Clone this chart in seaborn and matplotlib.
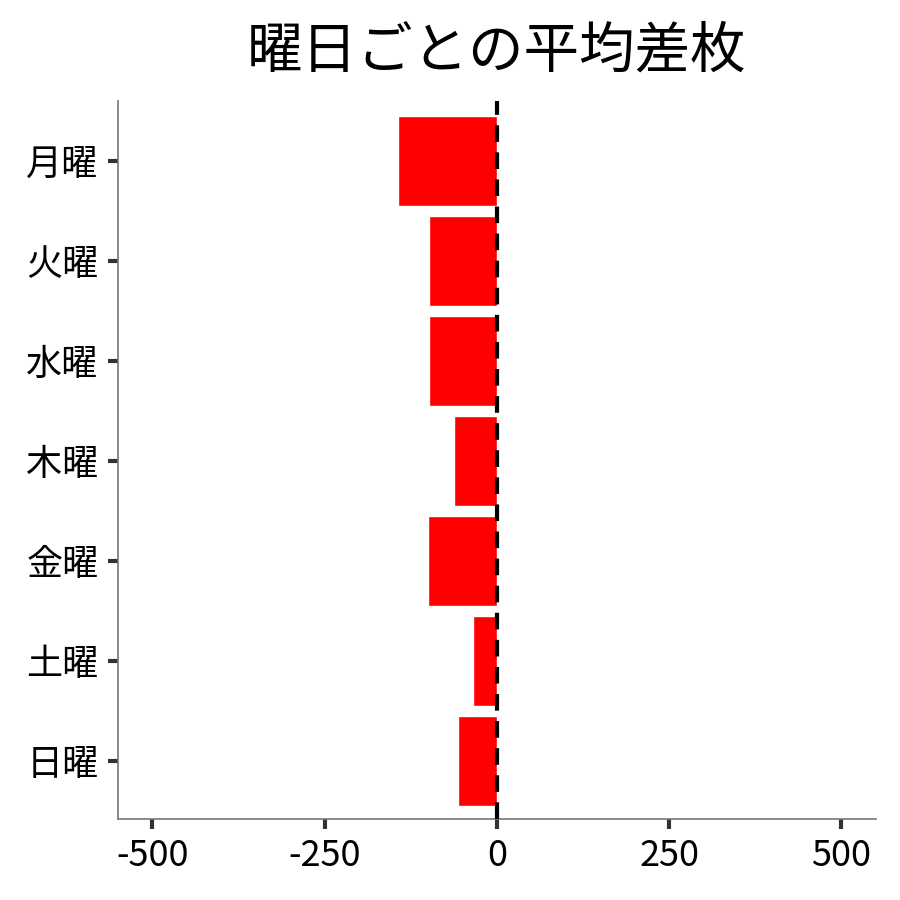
import matplotlib
matplotlib.use("Agg")
import matplotlib.pyplot as plt
import pandas as pd
import seaborn as sns

# 曜日ごとの平均差枚
曜日 = ["月曜", "火曜", "水曜", "木曜", "金曜", "土曜", "日曜"]
平均差枚 = [-144, -99, -99, -62, -100, -35, -57]
x目盛り = [-500, -250, 0, 250, 500]

df = pd.DataFrame({"曜日": 曜日, "平均差枚": 平均差枚})

sns.set_theme(style="ticks")
plt.rcParams["font.family"] = ["Noto Sans CJK JP", "DejaVu Sans"]
plt.rcParams["axes.unicode_minus"] = False
plt.rcParams["text.color"] = "black"
plt.rcParams["xtick.labelcolor"] = "black"
plt.rcParams["ytick.labelcolor"] = "black"

fig, ax = plt.subplots(figsize=(9, 9), dpi=100)
fig.subplots_adjust(left=0.131, right=0.973, top=0.888, bottom=0.09)

sns.barplot(data=df, x="平均差枚", y="曜日", order=曜日, color="#ff0000",
            saturation=1, width=0.9, ax=ax)
ax.axvline(0, color="black", linestyle=(0, (4, 2.5)), linewidth=3, zorder=5)

ax.set_xlim(-550, 550)
ax.set_ylim(6.58, -0.6)
ax.set_xticks(x目盛り)
ax.set_xticklabels([str(v) for v in x目盛り])
ax.set_xlabel("")
ax.set_ylabel("")
ax.set_title("曜日ごとの平均差枚", fontsize=40, pad=24, color="black")

ax.tick_params(axis="both", labelsize=26, length=7, width=3, color="#333333", pad=7)
for side in ["left", "bottom"]:
    ax.spines[side].set_color("#777777")
    ax.spines[side].set_linewidth(1.2)
sns.despine(ax=ax)

fig.savefig("out.png", dpi=100)
